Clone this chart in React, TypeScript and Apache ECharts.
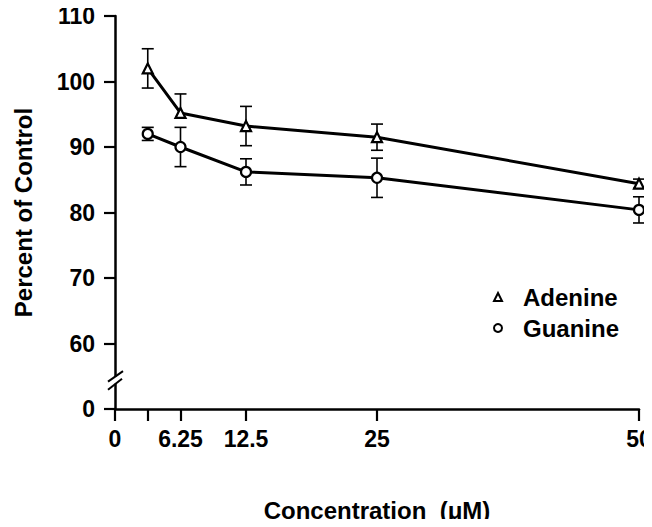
import React, { useEffect, useRef } from "react";
import * as echarts from "echarts";

const concentrations = [3.125, 6.25, 12.5, 25, 50];
const adenineMean = [102, 95.2, 93.2, 91.5, 84.4];
const adenineErrUp = [3, 2.9, 3, 2, 0.7];
const adenineErrDown = [3, 0, 3, 2, 0.7];
const guanineMean = [92, 90, 86.2, 85.3, 80.4];
const guanineErrUp = [1, 3, 2, 3, 2];
const guanineErrDown = [1, 3, 2, 3, 2];
const xTickValues = [0, 3.125, 6.25, 12.5, 25, 50];
const xLabelValues = [0, 6.25, 12.5, 25, 50];
// the bottom tick of the broken axis stands for 0
const yBreakBase = 50;
const yBreakBaseLabel = "0";

const FONT = "'Liberation Sans', Arial, Helvetica, sans-serif";

export default function App() {
  const ref = useRef<HTMLDivElement>(null);
  useEffect(() => {
    if (!ref.current) return;
    const chart = echarts.init(ref.current, undefined, { renderer: "svg" });

    const errData = (means: number[], up: number[], down: number[]) =>
      concentrations.map((c, i) => [c, means[i] - down[i], means[i] + up[i], means[i]]);

    const renderErr = (params: any, api: any) => {
      const x = api.value(0);
      const lo = api.coord([x, api.value(1)]);
      const hi = api.coord([x, api.value(2)]);
      const mid = api.coord([x, api.value(3)]);
      const half = 6;
      const style = { stroke: "#000", lineWidth: 1.6 };
      const children: any[] = [
        { type: "line", shape: { x1: lo[0], y1: lo[1], x2: hi[0], y2: hi[1] }, style },
      ];
      if (Math.abs(lo[1] - mid[1]) > 0.5)
        children.push({ type: "line", shape: { x1: lo[0] - half, y1: lo[1], x2: lo[0] + half, y2: lo[1] }, style });
      if (Math.abs(hi[1] - mid[1]) > 0.5)
        children.push({ type: "line", shape: { x1: hi[0] - half, y1: hi[1], x2: hi[0] + half, y2: hi[1] }, style });
      return { type: "group", children };
    };

    const markerStyle = { color: "#fff", borderColor: "#000", borderWidth: 2.2 };

    chart.setOption({
      animation: false,
      backgroundColor: "#fff",
      grid: { left: 115, right: 13, top: 16, bottom: 118, outerBoundsMode: "none", containLabel: false },
      legend: {
        orient: "vertical",
        left: 488,
        top: 280,
        itemWidth: 8,
        itemHeight: 8,
        itemGap: 7,
        data: [
          { name: "Adenine", icon: "triangle" },
          { name: "Guanine", icon: "circle" },
        ],
        itemStyle: { color: "#fff", borderColor: "#000", borderWidth: 2 },
        textStyle: {
          fontFamily: FONT,
          fontWeight: "bold",
          fontSize: 24,
          lineHeight: 24,
          color: "#000",
          padding: [0, 0, 0, 16],
        },
      },
      xAxis: {
        type: "value",
        min: 0,
        max: 50,
        name: "Concentration  (μM)",
        nameLocation: "middle",
        nameGap: 89,
        nameTextStyle: { fontFamily: FONT, fontWeight: "bold", fontSize: 24, color: "#000" },
        splitLine: { show: false },
        axisLine: { show: true, lineStyle: { color: "#000", width: 2.5 } },
        axisTick: {
          show: true,
          length: 12,
          customValues: xTickValues,
          lineStyle: { color: "#000", width: 2.2 },
        },
        axisLabel: {
          customValues: xLabelValues,
          margin: 18,
          fontFamily: FONT,
          fontWeight: "bold",
          fontSize: 23,
          color: "#000",
          formatter: (v: number) => String(v),
        },
      },
      yAxis: {
        type: "value",
        min: 50,
        max: 110,
        interval: 10,
        name: "Percent of Control",
        nameLocation: "middle",
        nameGap: 80,
        nameRotate: 90,
        nameTextStyle: { fontFamily: FONT, fontWeight: "bold", fontSize: 24, color: "#000" },
        splitLine: { show: false },
        axisLine: { show: true, lineStyle: { color: "#000", width: 2.5 } },
        axisTick: { show: true, length: 11, lineStyle: { color: "#000", width: 2.2 } },
        axisLabel: {
          margin: 20,
          fontFamily: FONT,
          fontWeight: "bold",
          fontSize: 23,
          color: "#000",
          formatter: (v: number) => (v === yBreakBase ? yBreakBaseLabel : String(v)),
        },
      },
      series: [
        {
          type: "custom",
          name: "Adenine SE",
          renderItem: renderErr,
          data: errData(adenineMean, adenineErrUp, adenineErrDown),
          encode: { x: 0, y: [1, 2] },
          z: 1,
        },
        {
          type: "custom",
          name: "Guanine SE",
          renderItem: renderErr,
          data: errData(guanineMean, guanineErrUp, guanineErrDown),
          encode: { x: 0, y: [1, 2] },
          z: 1,
        },
        {
          type: "line",
          name: "Adenine",
          data: concentrations.map((c, i) => [c, adenineMean[i]]),
          symbol: "triangle",
          symbolSize: 10,
          showAllSymbol: true,
          lineStyle: { color: "#000", width: 3 },
          itemStyle: markerStyle,
          z: 3,
        },
        {
          type: "line",
          name: "Guanine",
          data: concentrations.map((c, i) => [c, guanineMean[i]]),
          symbol: "circle",
          symbolSize: 10,
          showAllSymbol: true,
          lineStyle: { color: "#000", width: 3 },
          itemStyle: markerStyle,
          z: 3,
        },
      ],
    });

    // axis break marks on the y axis between the "0" tick and 60
    const ax = chart.convertToPixel({ xAxisIndex: 0 }, 0) as number;
    const yc = chart.convertToPixel({ yAxisIndex: 0 }, 54.4) as number;
    const slash = { stroke: "#000", lineWidth: 2 };
    chart.setOption({
      graphic: [
        {
          type: "rect",
          shape: { x: ax - 3, y: yc - 3.5, width: 6, height: 7 },
          style: { fill: "#fff" },
          z: 100,
        },
        {
          type: "line",
          shape: { x1: ax - 7, y1: yc + 1.5, x2: ax + 8, y2: yc - 9 },
          style: slash,
          z: 101,
        },
        {
          type: "line",
          shape: { x1: ax - 7, y1: yc + 9.5, x2: ax + 7, y2: yc - 1.5 },
          style: slash,
          z: 101,
        },
      ],
    });

    return () => chart.dispose();
  }, []);
  return <div ref={ref} style={{ width: 652, height: 527, margin: -8 }} />;
}
